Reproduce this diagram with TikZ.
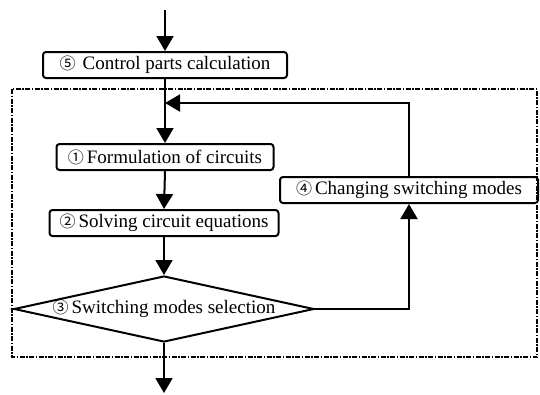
\documentclass[tikz,border=0pt]{standalone}
\usepackage{fontspec}
\setmainfont{Liberation Serif}
\newfontfamily\circfont{Noto Sans CJK JP}
\usetikzlibrary{arrows.meta, shapes.geometric}
\newcommand{\cnum}[1]{{\circfont\fontsize{16}{16}\selectfont #1}\hspace{3pt}}

\begin{document}
\begin{tikzpicture}[x=1pt, y=-1pt,
	every node/.style={font=\fontsize{19}{19}\selectfont},
	stepbox/.style={draw, line width=2pt, rounded corners=3pt, minimum height=26pt, inner sep=0pt},
	decision/.style={draw, diamond, line width=2pt, minimum width=300pt, minimum height=66pt, inner sep=0pt},
	arr/.style={line width=2pt, -{Triangle[length=15pt, width=17pt]}}]
	\useasboundingbox (0,0) rectangle (540,394);
	
	% loop frame
	\draw[line width=1.8pt, dash pattern=on 5pt off 1.5pt on 1.5pt off 1.5pt] (12,89) rectangle (537,357);
	
	\node[stepbox, minimum width=244pt] (calc) at (165,65) {\cnum{⑤}\hspace{4pt}Control parts calculation};
	\node[stepbox, minimum width=217pt] (form) at (165,157) {\cnum{①}Formulation of circuits};
	\node[stepbox, minimum width=229pt] (solve) at (164,223) {\cnum{②}Solving circuit equations};
	\node[stepbox, minimum width=258pt] (change) at (409,190) {\cnum{④}Changing switching modes};
	\node[decision] (sel) at (164,309) {};
	\node (seltext) at (sel.center) {\cnum{③}Switching modes selection};
	
	\coordinate (in) at (165,10);
	\coordinate (join) at (165,103);
	\coordinate (out) at (164,393);
	
	\draw[arr] (in) -- (calc.north);
	\draw[arr] (calc.south) -- (form.north);
	\draw[arr] (form.south) -- (solve.north);
	\draw[arr] (solve.south) -- (sel.north);
	\draw[arr] (sel.east) -| (change.south);
	\draw[arr] (change.north) |- (join);
	\draw[arr] (sel.south) -- (out);
\end{tikzpicture}
\end{document}
